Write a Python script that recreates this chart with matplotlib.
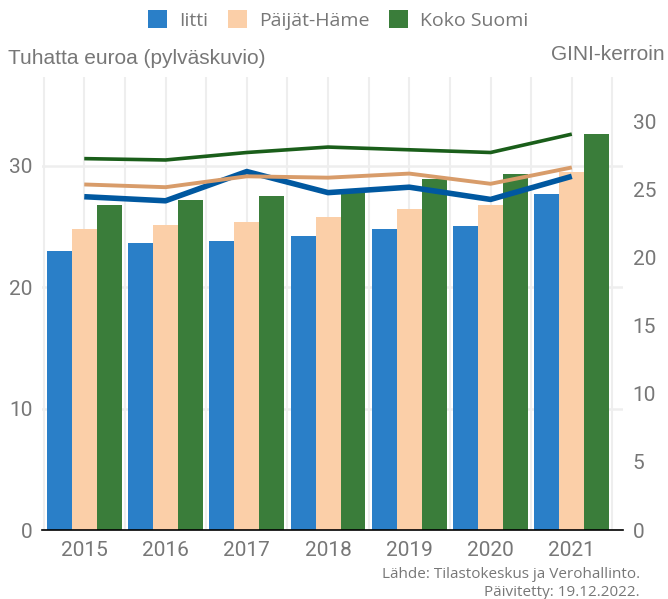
import numpy as np
import matplotlib.pyplot as plt

# Data
vuodet = ['2015', '2016', '2017', '2018', '2019', '2020', '2021']
alueet = ['Iitti', 'Päijät-Häme', 'Koko Suomi']

# tulot, tuhatta euroa (pylväät)
tulot_iitti = [23.0, 23.6, 23.8, 24.2, 24.8, 25.0, 27.65]
tulot_ph = [24.8, 25.1, 25.35, 25.8, 26.4, 26.8, 29.5]
tulot_suomi = [26.8, 27.2, 27.5, 28.1, 28.9, 29.3, 32.6]

# GINI-kerroin (viivat)
gini_iitti = [24.5, 24.2, 26.35, 24.8, 25.2, 24.3, 26.0]
gini_ph = [25.4, 25.2, 26.0, 25.9, 26.2, 25.45, 26.65]
gini_suomi = [27.3, 27.2, 27.75, 28.15, 27.95, 27.75, 29.1]

palkki_varit = ['#2a7fc8', '#fbcfa8', '#3a7d3a']
viiva_varit = ['#0058a0', '#d89c6a', '#1a5e1a']
harmaa = '#777777'

W, H = 668, 599
fig = plt.figure(figsize=(W / 100, H / 100), dpi=100)
ax = fig.add_axes([42 / W, (H - 530) / H, (623 - 42) / W, (530 - 77) / H])
ax2 = ax.twinx()

x = np.arange(len(vuodet))
w = 0.307
for i, (sarja, vari) in enumerate(zip([tulot_iitti, tulot_ph, tulot_suomi], palkki_varit)):
    ax.bar(x + (i - 1) * w, sarja, width=w, color=vari, label=alueet[i], zorder=2)

leveydet = [4.0, 2.8, 2.6]
for sarja, vari, lw in zip([gini_iitti, gini_ph, gini_suomi], viiva_varit, leveydet):
    ax2.plot(x, sarja, color=vari, lw=lw, solid_capstyle='butt', zorder=3)

ax.set_xlim(-0.52, 6.63)
ax.set_ylim(0, 37.3)
ax2.set_ylim(0, 33.3)

ax.set_yticks([0, 10, 20, 30])
ax2.set_yticks([0, 5, 10, 15, 20, 25, 30])
ax.set_xticks(x)
ax.set_xticklabels(vuodet)
ax.set_xticks(np.arange(-0.5, 7, 0.5), minor=True)

ax.grid(axis='y', color='#eeeeee', lw=1.8, zorder=0)
ax.grid(axis='x', which='both', color='#eeeeee', lw=1.5, zorder=0)
ax.set_axisbelow(True)

for a in (ax, ax2):
    for s in ('top', 'right', 'left'):
        a.spines[s].set_visible(False)
    a.tick_params(length=0, labelcolor=harmaa, labelsize=15)
    for lab in a.get_xticklabels() + a.get_yticklabels():
        lab.set_family('Roboto')
ax.tick_params(axis='x', which='minor', length=0)
ax2.spines['bottom'].set_visible(False)
ax.spines['bottom'].set_color('black')
ax.spines['bottom'].set_linewidth(1.2)
ax.tick_params(axis='y', pad=7)
ax2.tick_params(axis='y', pad=7)
ax.tick_params(axis='x', pad=8)

fig.text(8 / W, 1 - 58 / H, 'Tuhatta euroa (pylväskuvio)', fontsize=15,
         color=harmaa, family='Liberation Sans', va='center', ha='left')
fig.text(665 / W, 1 - 55 / H, 'GINI-kerroin', fontsize=15,
         color=harmaa, family='Liberation Sans', va='center', ha='right')

leg = fig.legend(loc='center', bbox_to_anchor=(338 / W, 1 - 20 / H), ncol=3,
                 frameon=False, handlelength=1.0, handleheight=1.0,
                 columnspacing=1.0, handletextpad=0.6,
                 prop={'family': 'Open Sans', 'size': 14})
for t in leg.get_texts():
    t.set_color(harmaa)

for teksti, yy in [('Lähde: Tilastokeskus ja Verohallinto.', 575),
                   ('Päivitetty: 19.12.2022.', 592)]:
    fig.text(640 / W, 1 - yy / H, teksti, fontsize=11, color=harmaa,
             family='Open Sans', ha='right', va='center')

fig.savefig('out.png', dpi=100)
